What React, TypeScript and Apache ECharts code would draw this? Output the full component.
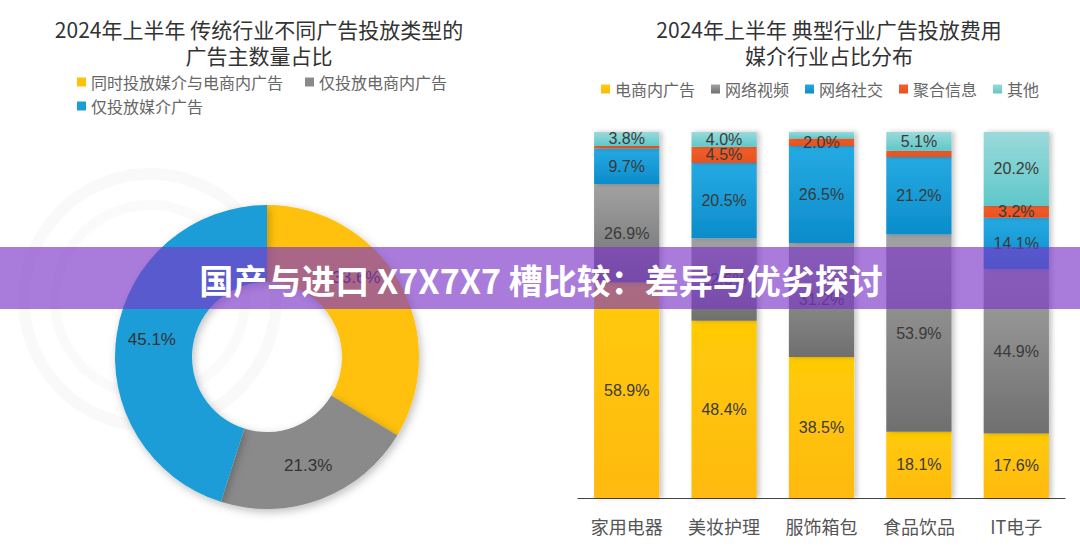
import React, { useEffect, useRef } from "react";
import * as echarts from "echarts";

const pieNames = ["同时投放媒介与电商内广告", "仅投放电商内广告", "仅投放媒介广告"];
const pieValues = [33.6, 21.3, 45.1];

const categories = ["家用电器", "美妆护理", "服饰箱包", "食品饮品", "IT电子"];
const seriesNames = ["电商内广告", "网络视频", "网络社交", "聚合信息", "其他"];
const ecommerce = [58.9, 48.4, 38.5, 18.1, 17.6];
const video = [26.9, 22.6, 31.2, 53.9, 44.9];
const social = [9.7, 20.5, 26.5, 21.2, 14.1];
const aggregate = [0.7, 4.5, 2.0, 1.7, 3.2];
const others = [3.8, 4.0, 1.8, 5.1, 20.2];

const bannerText = "国产与进口 X7X7X7 槽比较：差异与优劣探讨";
const leftTitle = "2024年上半年 传统行业不同广告投放类型的\n广告主数量占比";
const rightTitle = "2024年上半年 典型行业广告投放费用\n媒介行业占比分布";

const CJK = '"Noto Sans CJK SC", "Microsoft YaHei", sans-serif';
const NUM = '"Liberation Sans", Arial, sans-serif';

function vgrad(top: string, bottom: string) {
  return new echarts.graphic.LinearGradient(0, 0, 0, 1, [
    { offset: 0, color: top },
    { offset: 1, color: bottom },
  ]);
}

export default function App() {
  const ref = useRef<HTMLDivElement>(null);
  useEffect(() => {
    if (!ref.current) return;
    const chart = echarts.init(ref.current, undefined, { renderer: "svg" });
    const barColors = [
      ["#FFCB05", "#FFB912"],
      ["#A2A2A2", "#6F6F6F"],
      ["#26AAE2", "#0B8CCB"],
      ["#F2602E", "#E8501E"],
      ["#9ADADA", "#5FC7C9"],
    ];
    const barData = [ecommerce, video, social, aggregate, others];
    const barSeries = seriesNames.map((name, i) => ({
      name,
      type: "bar",
      stack: "total",
      xAxisIndex: 0,
      yAxisIndex: 0,
      barWidth: "67%",
      data: barData[i],
      itemStyle: {
        color: vgrad(barColors[i][0], barColors[i][1]),
        shadowColor: "rgba(0,0,0,0.22)",
        shadowBlur: 5,
        shadowOffsetX: 3,
      },
      label: {
        show: true,
        position: "inside",
        fontFamily: NUM,
        fontSize: 16,
        color: "#3a3a3a",
        formatter: (p: any) => (p.value >= 2 ? p.value.toFixed(1) + "%" : ""),
      },
      emphasis: { disabled: true },
    }));
    const pieColors = ["#FFC107", "#8A8A8A", "#1A9DD8"];
    const titleStyle = { fontFamily: CJK, fontSize: 21, fontWeight: "normal", color: "#333", lineHeight: 26 };
    const legendText = { fontFamily: CJK, fontSize: 16, color: "#666" };
    chart.setOption({
      animation: false,
      backgroundColor: "#ffffff",
      title: [
        { text: leftTitle, left: 254, top: 11, textAlign: "center", textStyle: titleStyle },
        { text: rightTitle, left: 824, top: 11, textAlign: "center", textStyle: titleStyle },
      ],
      legend: [
        {
          data: pieNames.slice(0, 2),
          left: 72,
          top: 69,
          icon: "rect",
          itemWidth: 9,
          itemHeight: 9,
          itemGap: 22,
          selectedMode: false,
          textStyle: legendText,
        },
        {
          data: pieNames.slice(2),
          left: 72,
          top: 93,
          icon: "rect",
          itemWidth: 9,
          itemHeight: 9,
          selectedMode: false,
          textStyle: legendText,
        },
        {
          data: seriesNames,
          left: 596,
          top: 76,
          icon: "rect",
          itemWidth: 9,
          itemHeight: 9,
          itemGap: 16,
          selectedMode: false,
          textStyle: legendText,
        },
      ],
      grid: { left: 578, right: 15, top: 132, bottom: 59 },
      xAxis: {
        type: "category",
        data: categories,
        axisLine: { lineStyle: { color: "#444", width: 1 } },
        axisTick: { show: false },
        axisLabel: { fontFamily: CJK, fontSize: 18, color: "#555", margin: 19 },
      },
      yAxis: { type: "value", min: 0, max: 100, show: false },
      series: [
        {
          type: "pie",
          center: [267, 357],
          radius: [75, 152],
          startAngle: 90,
          clockwise: true,
          data: pieNames.map((name, i) => ({
            name,
            value: pieValues[i],
            itemStyle: { color: pieColors[i] },
            label: i === 0 ? { offset: [-12, -22] } : undefined,
          })),
          itemStyle: {
            shadowColor: "rgba(0,0,0,0.25)",
            shadowBlur: 8,
            shadowOffsetX: 2,
            shadowOffsetY: 3,
          },
          label: {
            show: true,
            position: "inside",
            fontFamily: NUM,
            fontSize: 17,
            color: "#333",
            formatter: (p: any) => p.value.toFixed(1) + "%",
          },
          labelLine: { show: false },
          emphasis: { disabled: true },
          z: 2,
        },
        ...barSeries,
      ],
      graphic: [
        {
          type: "ring",
          shape: { cx: 150, cy: 300, r: 132, r0: 120 },
          style: { fill: "rgba(0,0,0,0.025)" },
          silent: true,
          z: -10,
        },
        {
          type: "ring",
          shape: { cx: 150, cy: 300, r: 100, r0: 90 },
          style: { fill: "rgba(0,0,0,0.02)" },
          silent: true,
          z: -10,
        },
        {
          type: "rect",
          shape: { x: 0, y: 247, width: 1080, height: 62 },
          style: { fill: "rgba(123,54,200,0.65)" },
          silent: true,
          z: 100,
        },
        {
          type: "text",
          x: 541,
          y: 279,
          style: {
            text: bannerText,
            fill: "#ffffff",
            font: `bold 34px ${CJK}`,
            textAlign: "center",
            textVerticalAlign: "middle",
          },
          silent: true,
          z: 101,
        },
      ],
    });
    return () => chart.dispose();
  }, []);
  return <div ref={ref} style={{ width: 1080, height: 557, position: "absolute", left: 0, top: 0 }} />;
}
